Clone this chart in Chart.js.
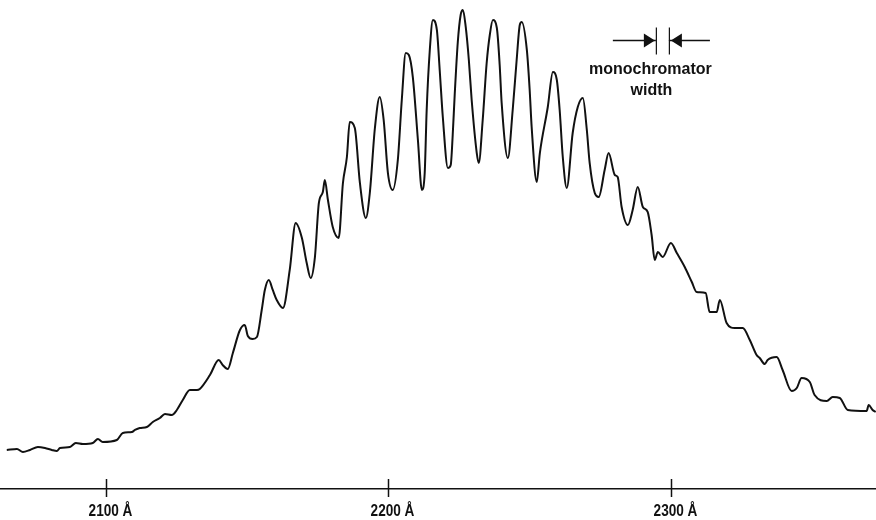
<!DOCTYPE html>
<html>
<head>
<meta charset="utf-8">
<script src="https://cdn.jsdelivr.net/npm/chart.js@4.4.1/dist/chart.umd.min.js"></script>
<style>
  html, body { margin: 0; padding: 0; background: #ffffff; }
  #wrap { width: 876px; height: 520px; }
</style>
</head>
<body>
<div id="wrap"><canvas id="spec" width="876" height="520"></canvas></div>
<script>
// Wavelength (Å) of each sampled point of the recorded spectrum
const wavelength = [
  2065.1, 2068.7, 2070.8, 2073.3, 2076.1, 2078.6, 2081.0, 2082.8, 2083.9, 2087.4,
  2089.5, 2092.0, 2095.5, 2097.3, 2099.0, 2104.0, 2106.1, 2109.3, 2110.4, 2112.1,
  2114.6, 2116.7, 2119.2, 2121.0, 2123.4, 2125.2, 2127.3, 2129.8, 2132.3, 2133.3,
  2136.9, 2140.0, 2141.4, 2143.2, 2145.0, 2147.5, 2149.2, 2150.3, 2152.0, 2153.5,
  2155.2, 2156.3, 2157.7, 2159.1, 2160.5, 2162.7, 2165.1, 2167.2, 2169.4, 2171.1,
  2172.5, 2174.0, 2175.4, 2176.8, 2177.5, 2178.6, 2180.3, 2182.4, 2183.9, 2185.3,
  2186.3, 2188.1, 2189.9, 2192.0, 2193.4, 2195.2, 2196.9, 2198.3, 2199.8, 2201.5,
  2203.3, 2204.7, 2206.1, 2207.2, 2208.6, 2210.4, 2211.8, 2212.8, 2213.5, 2214.6,
  2215.7, 2217.1, 2218.1, 2219.2, 2221.0, 2222.0, 2222.7, 2223.4, 2224.5, 2225.5,
  2226.3, 2227.3, 2228.4, 2229.4, 2231.2, 2231.9, 2233.3, 2234.7, 2235.8, 2236.9,
  2238.3, 2239.3, 2240.0, 2242.2, 2243.9, 2245.3, 2246.4, 2247.1, 2248.9, 2249.9,
  2250.6, 2252.4, 2253.5, 2256.3, 2258.1, 2259.5, 2260.5, 2261.6, 2263.0, 2265.1,
  2266.9, 2268.7, 2270.1, 2271.1, 2272.9, 2274.3, 2276.4, 2277.8, 2280.0, 2281.0,
  2282.4, 2284.6, 2286.3, 2288.1, 2289.9, 2291.6, 2293.0, 2294.1, 2295.2, 2296.9,
  2299.8, 2301.9, 2304.7, 2307.2, 2308.9, 2312.1, 2313.5, 2316.0, 2317.1, 2319.5,
  2322.4, 2325.2, 2327.7, 2330.1, 2331.2, 2333.0, 2334.0, 2337.2, 2339.3, 2342.5,
  2344.3, 2346.0, 2348.9, 2350.6, 2354.9, 2357.0, 2359.5, 2362.3, 2369.0, 2369.7,
  2371.1, 2372.2
];

// Relative intensity at each wavelength (arbitrary units)
const intensity = [
  7.98, 8.18, 7.57, 7.98, 8.59, 8.38, 7.98, 7.77, 8.38, 8.59,
  9.41, 9.20, 9.41, 10.22, 9.61, 10.02, 11.45, 11.66, 12.07, 12.47,
  12.68, 13.70, 14.52, 15.34, 15.13, 16.16, 18.20, 20.25, 20.25, 20.45,
  23.31, 26.38, 25.36, 24.54, 27.81, 32.52, 33.54, 31.29, 30.67, 31.08,
  36.61, 40.70, 42.74, 40.70, 38.65, 37.01, 44.79, 54.40, 51.33, 46.22,
  43.15, 47.44, 58.49, 60.74, 63.19, 59.10, 53.58, 51.33, 62.58, 67.89,
  75.05, 73.82, 62.58, 55.42, 60.53, 73.82, 80.16, 75.46, 64.62, 61.15,
  67.28, 79.55, 89.16, 88.75, 84.25, 71.37, 61.15, 64.62, 77.51, 89.78,
  95.91, 93.87, 85.69, 76.07, 65.64, 66.26, 72.39, 80.57, 91.41, 96.93,
  97.96, 94.48, 87.73, 79.55, 68.71, 66.67, 75.46, 87.12, 92.84, 95.91,
  94.27, 86.71, 78.94, 67.69, 77.51, 87.73, 94.89, 95.50, 89.78, 81.60,
  74.03, 62.78, 68.71, 78.12, 85.28, 83.64, 77.51, 67.89, 61.55, 72.80,
  78.12, 79.96, 73.42, 66.67, 60.53, 59.71, 65.24, 68.71, 64.21, 63.80,
  57.67, 53.99, 57.06, 61.76, 57.67, 56.65, 51.94, 46.83, 48.47, 47.44,
  50.31, 48.26, 45.40, 42.33, 40.29, 40.08, 36.20, 36.20, 38.65, 33.95,
  32.92, 32.92, 30.47, 27.40, 26.79, 25.56, 26.38, 26.99, 24.34, 20.04,
  20.65, 22.70, 21.88, 19.22, 18.00, 18.81, 18.61, 16.16, 15.95, 17.18,
  16.16, 15.75
];

// Labelled wavelength ticks on the axis
const tickWavelengths = [2100, 2200, 2300];

// Monochromator band pass marker (centre and full width, Å)
const monoCenter = 2296.8;
const monoWidth = 4.6;
const monoLabel = ['monochromator', 'width'];

const points = wavelength.map((w, i) => ({ x: w, y: intensity[i] }));

// Ticks that cross the axis line, with condensed labels underneath
const axisTicks = {
  id: 'axisTicks',
  afterDraw(chart) {
    const { ctx, chartArea, scales } = chart;
    const xs = scales.x;
    ctx.save();
    ctx.strokeStyle = '#111';
    ctx.fillStyle = '#111';
    ctx.lineWidth = 1.5;
    ctx.font = 'bold 16px "Liberation Sans", Arial, sans-serif';
    ctx.textAlign = 'center';
    ctx.textBaseline = 'alphabetic';
    xs.ticks.forEach(t => {
      const px = Math.round(xs.getPixelForValue(t.value)) + 0.5;
      ctx.beginPath();
      ctx.moveTo(px, chartArea.bottom - 10);
      ctx.lineTo(px, chartArea.bottom + 8);
      ctx.stroke();
      ctx.save();
      ctx.translate(px + 4, chartArea.bottom + 27);
      ctx.scale(0.85, 1);
      ctx.fillText(t.value + ' Å', 0, 0);
      ctx.restore();
    });
    ctx.restore();
  }
};

// Band-pass symbol: two facing arrowheads bracketing the monochromator width
const monoMarker = {
  id: 'monoMarker',
  afterDraw(chart) {
    const { ctx, scales } = chart;
    const xs = scales.x;
    const xl = xs.getPixelForValue(monoCenter - monoWidth / 2);
    const xr = xs.getPixelForValue(monoCenter + monoWidth / 2);
    const lineL = xs.getPixelForValue(monoCenter - 17.5);
    const lineR = xs.getPixelForValue(monoCenter + 16.8);
    const cy = 40.5;
    const head = 11, half = 7;
    ctx.save();
    ctx.strokeStyle = '#111';
    ctx.fillStyle = '#111';
    ctx.lineWidth = 1.3;
    ctx.beginPath();
    ctx.moveTo(lineL, cy); ctx.lineTo(xl, cy);
    ctx.moveTo(xr, cy); ctx.lineTo(lineR, cy);
    ctx.stroke();
    // vertical bars at both edges of the band pass
    ctx.lineWidth = 1.2;
    ctx.beginPath();
    ctx.moveTo(xl + 0.5, cy - 13); ctx.lineTo(xl + 0.5, cy + 14);
    ctx.moveTo(xr + 0.5, cy - 13); ctx.lineTo(xr + 0.5, cy + 14);
    ctx.stroke();
    // arrowheads pointing at the bars
    ctx.beginPath();
    ctx.moveTo(xl - 1, cy); ctx.lineTo(xl - 1 - head, cy - half); ctx.lineTo(xl - 1 - head, cy + half); ctx.closePath();
    ctx.moveTo(xr + 2, cy); ctx.lineTo(xr + 2 + head, cy - half); ctx.lineTo(xr + 2 + head, cy + half); ctx.closePath();
    ctx.fill();
    // caption
    const cx = (xl + xr) / 2 - 12;
    ctx.font = 'bold 16px "Liberation Sans", Arial, sans-serif';
    ctx.textAlign = 'center';
    ctx.textBaseline = 'alphabetic';
    ctx.fillText(monoLabel[0], cx, 74);
    ctx.fillText(monoLabel[1], cx + 1, 95);
    ctx.restore();
  }
};

new Chart(document.getElementById('spec'), {
  type: 'line',
  data: {
    datasets: [{
      data: points,
      borderColor: '#111',
      borderWidth: 2,
      pointRadius: 0,
      fill: false,
      cubicInterpolationMode: 'monotone'
    }]
  },
  options: {
    responsive: false,
    devicePixelRatio: 1,
    animation: false,
    layout: { padding: 0 },
    plugins: { legend: { display: false }, tooltip: { enabled: false } },
    scales: {
      x: {
        type: 'linear',
        min: 2062.7,
        max: 2372.3,
        afterBuildTicks(scale) {
          scale.ticks = tickWavelengths.map(v => ({ value: v }));
        },
        afterFit(scale) { scale.height = 31; },
        ticks: { display: false },
        grid: { display: false },
        border: { display: true, color: '#111', width: 1.5 }
      },
      y: {
        display: false,
        min: 0,
        max: 100
      }
    }
  },
  plugins: [axisTicks, monoMarker]
});
</script>
</body>
</html>
